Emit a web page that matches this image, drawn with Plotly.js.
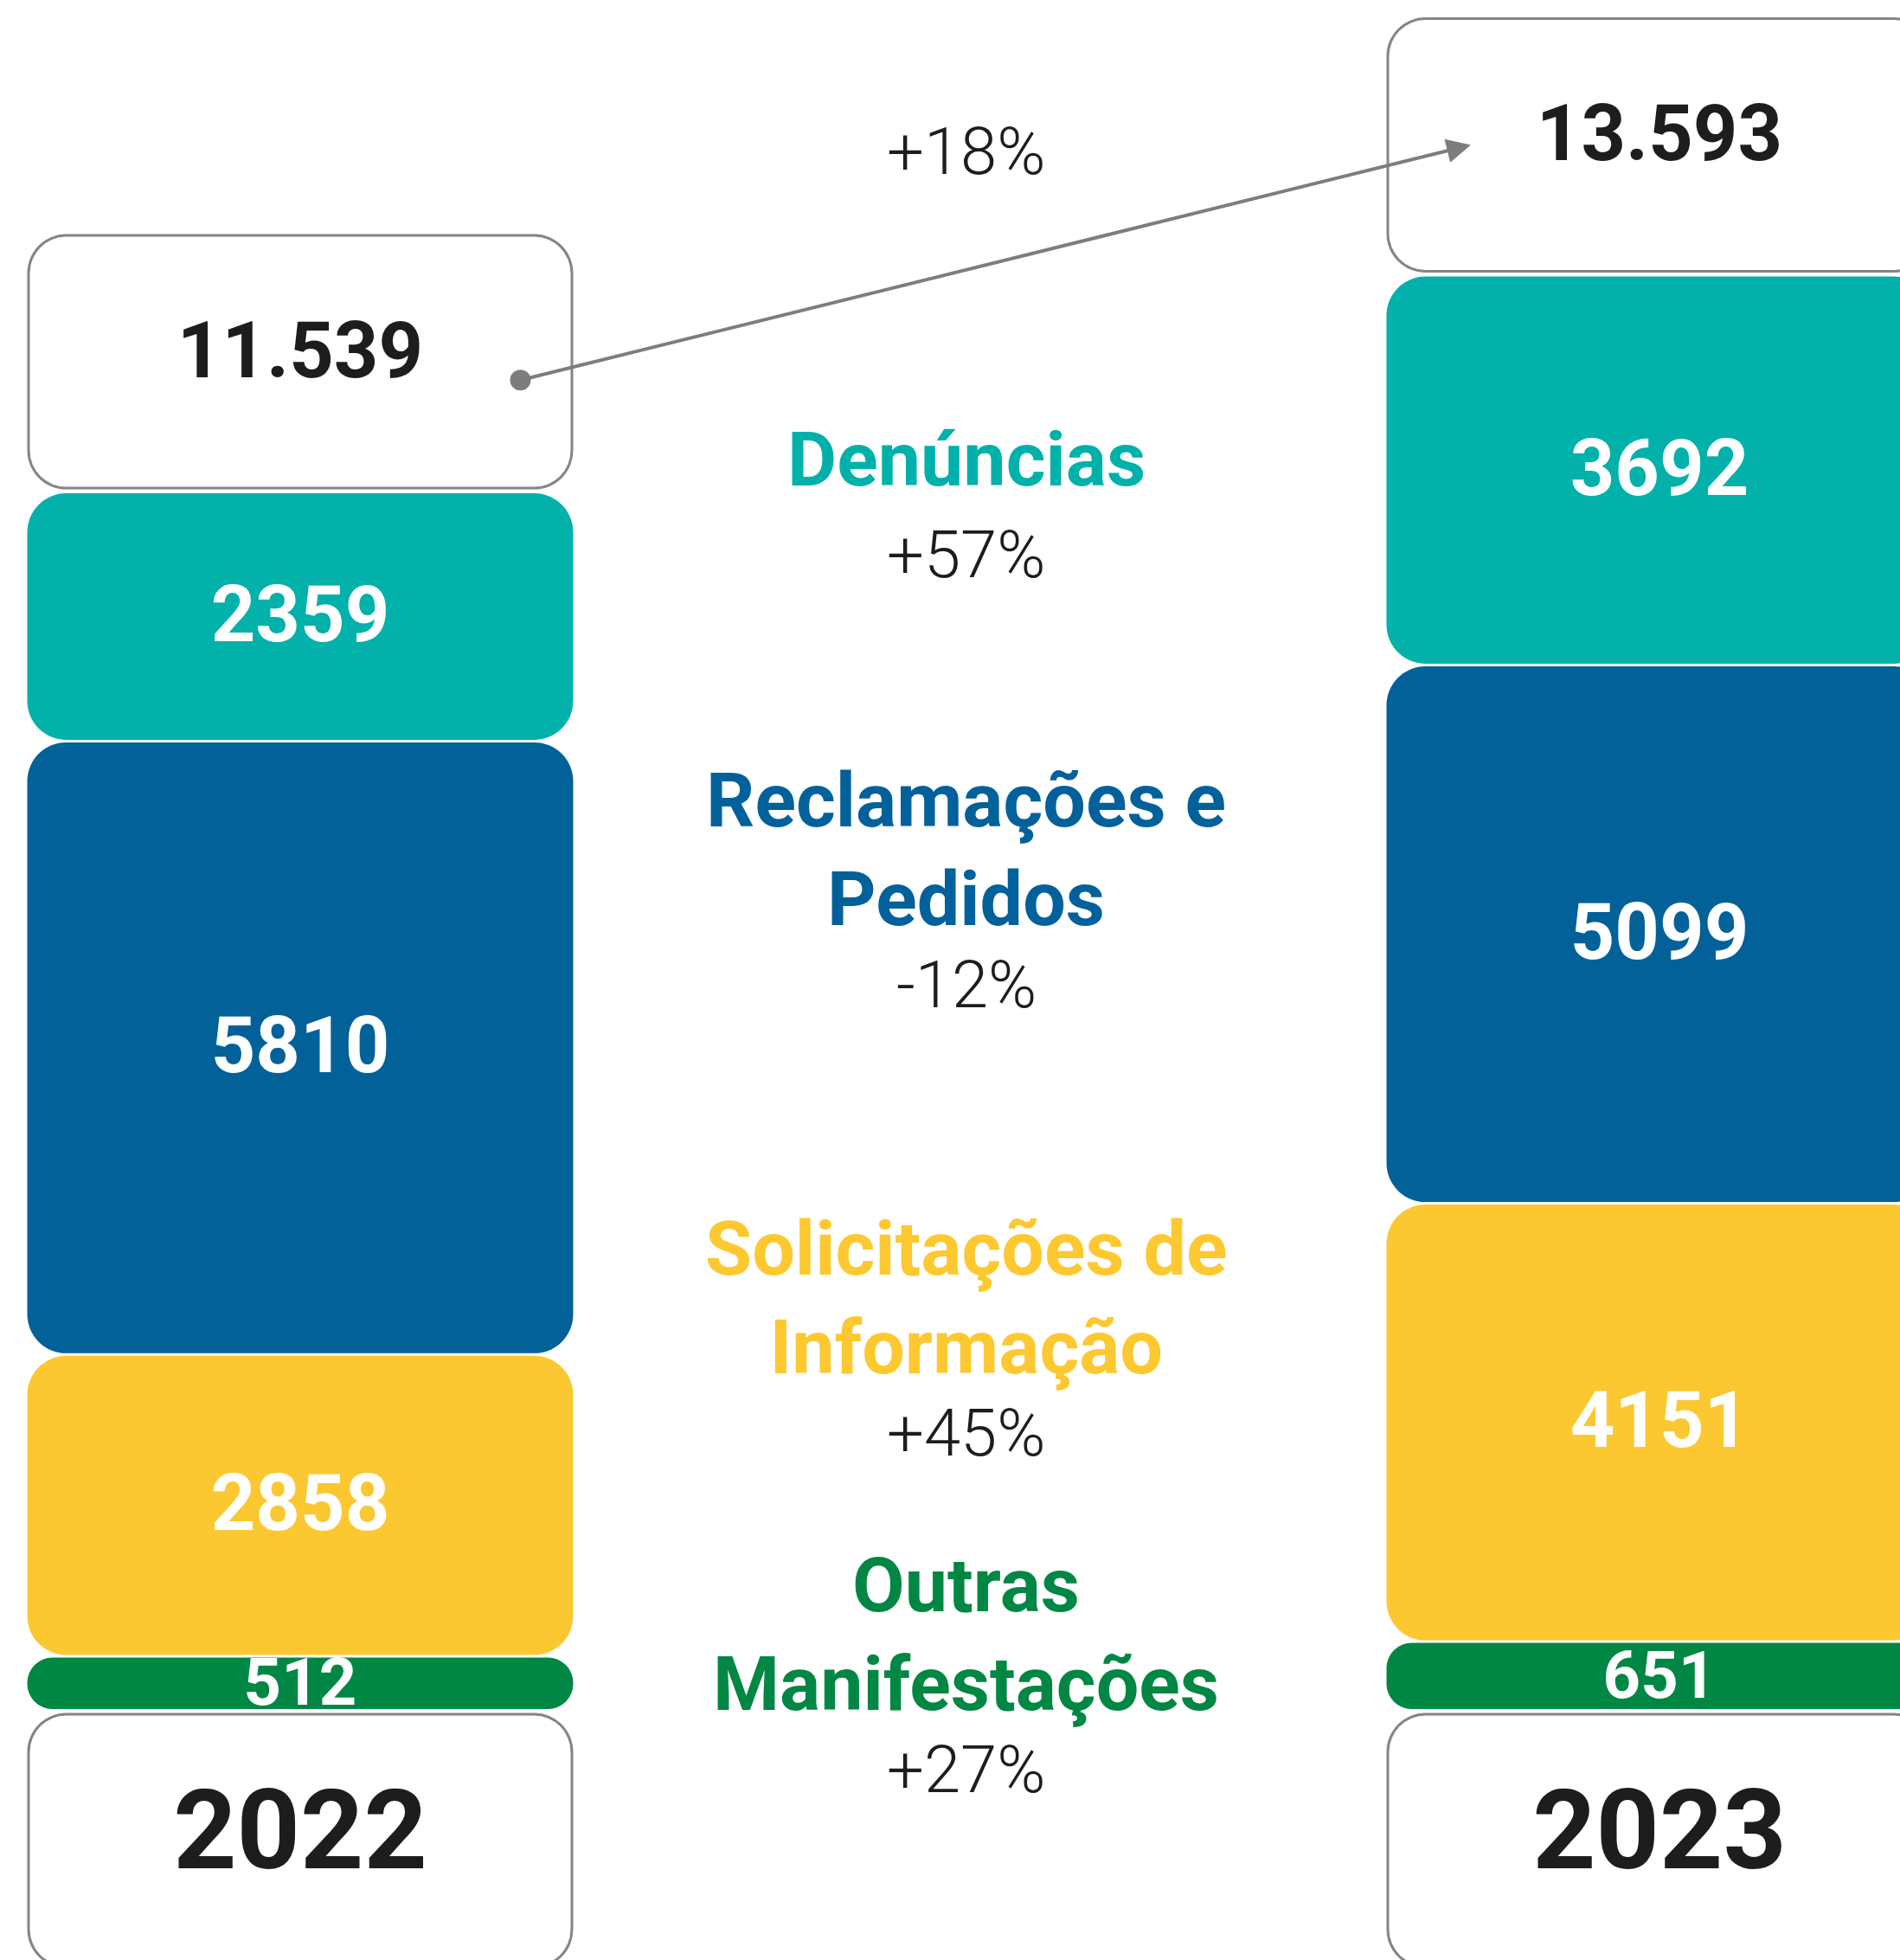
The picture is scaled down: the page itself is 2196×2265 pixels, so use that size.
<!DOCTYPE html>
<html>
<head>
<meta charset="utf-8">
<script src="https://cdn.plot.ly/plotly-3.0.1.min.js"></script>
<style>
  html, body { margin: 0; padding: 0; background: #ffffff; }
  #chart { width: 2196px; height: 2265px; }
</style>
</head>
<body>
<div id="chart"></div>
<script>
// ---------------- DATA ----------------
const years = ['2022', '2023'];
const categories = ['Denúncias', 'Reclamações e<br>Pedidos', 'Solicitações de<br>Informação', 'Outras<br>Manifestações'];
const values2022 = [2359, 5810, 2858, 512];
const values2023 = [3692, 5099, 4151, 651];

// ---------------- STYLE ----------------
const categoryColors = ['#02b1aa', '#026199', '#fcc831', '#018744'];
const labelColors = ['#00b1aa', '#02619b', '#fdc830', '#018743'];
const DARK = '#1d1d1b';
const GRAY = '#858585';
const ARROW = '#7d7d7d';
const FONT = 'Roboto, "Open Sans", "Noto Sans", sans-serif';

// ---------------- LAYOUT GEOMETRY ----------------
const W = 2196, H = 2265;
const series = [values2022, values2023];
const totals = series.map(a => a.reduce((p, c) => p + c, 0));

const baselinePx = 1976.5;   // bottom of stacks
const topPx = 318;           // top of tallest stack
const gapPx = 3;
const boxPx = 295;           // height of total / year boxes
const R = 45;                // corner radius
const border = 3;

const s = (baselinePx - topPx) / Math.max(...totals); // px per unit
const u = px => px / s;
const yRange = [-(H - baselinePx) / s, baselinePx / s];

const xCenterPx = [347, 1918];
const pxPerX = xCenterPx[1] - xCenterPx[0];
const xRange = [-xCenterPx[0] / pxPerX, (W - xCenterPx[0]) / pxPerX];
const barW = 631 / pxPerX;
const xIdx = years.map((_, j) => j);

const fmtThousands = n => String(n).replace(/\B(?=(\d{3})+(?!\d))/g, '.');
const fmtPct = (a, b) => { const p = Math.round((b / a - 1) * 100); return (p > 0 ? '+' : '') + p + '%'; };

// one rounded bar per year, spanning lo..hi
function roundedBars(lo, hi, width, color, radius) {
  return [{
    type: 'bar', x: xIdx, base: lo, y: lo.map((l, j) => hi[j] - l), width: width,
    marker: { color: color, cornerradius: radius, line: { width: 0 } },
    hoverinfo: 'skip', showlegend: false
  }];
}

const traces = [];
const textTraces = [];

// stacked segments (bottom: last category)
categories.forEach((cat, i) => {
  const lo = [], hi = [], mids = [];
  series.forEach((vals, j) => {
    let base = 0;
    for (let k = i + 1; k < vals.length; k++) base += vals[k];
    lo.push(base + u(gapPx / 2));
    hi.push(base + vals[i] - u(gapPx / 2));
    mids.push(base + vals[i] / 2);
  });
  const minHalfPx = Math.min(...lo.map((l, j) => (hi[j] - l) * s / 2));
  traces.push(...roundedBars(lo, hi, barW, categoryColors[i], Math.min(R, Math.floor(minHalfPx))));
  const small = Math.min(...lo.map((l, j) => (hi[j] - l) * s)) < 90;
  textTraces.push({
    type: 'scatter', mode: 'text', x: xIdx, y: mids.map(m => m - u(6)),
    text: series.map(vals => String(vals[i])),
    textposition: 'middle center',
    textfont: { family: FONT, size: small ? 76 : 90, color: '#ffffff', weight: 700 },
    hoverinfo: 'skip', showlegend: false
  });
});

// total boxes on top
const totLo = totals.map(t => t + u(gapPx));
const totHi = totLo.map(l => l + u(boxPx));
traces.push(...roundedBars(totLo, totHi, barW, GRAY, R));
traces.push(...roundedBars(totLo.map(v => v + u(border)), totHi.map(v => v - u(border)),
  barW - 2 * border / pxPerX, '#ffffff', R - border));
const totMid = totLo.map((l, j) => (l + totHi[j]) / 2);
textTraces.push({
  type: 'scatter', mode: 'text', x: xIdx, y: totMid.map(m => m + u(5)),
  text: totals.map(fmtThousands), textposition: 'middle center',
  textfont: { family: FONT, size: 90, color: DARK, weight: 700 },
  hoverinfo: 'skip', showlegend: false
});

// year boxes at the bottom
const yrHi = years.map(() => -u(gapPx));
const yrLo = yrHi.map(h => h - u(boxPx));
traces.push(...roundedBars(yrLo, yrHi, barW, GRAY, R));
traces.push(...roundedBars(yrLo.map(v => v + u(border)), yrHi.map(v => v - u(border)),
  barW - 2 * border / pxPerX, '#ffffff', R - border));
textTraces.push({
  type: 'scatter', mode: 'text', x: xIdx, y: yrLo.map((l, j) => (l + yrHi[j]) / 2),
  text: years, textposition: 'middle center',
  textfont: { family: FONT, size: 128, color: DARK, weight: 700 },
  hoverinfo: 'skip', showlegend: false
});

// ---------------- CENTER LABELS ----------------
const labelX = 0.49;
const namePx = [531, 981, 1499, 1888];       // vertical centre of each name block
const pctPx = [641, 1138, 1656, 2045];
const annotations = [];
categories.forEach((cat, i) => {
  annotations.push({
    xref: 'x', yref: 'paper', x: labelX, y: 1 - namePx[i] / H,
    xanchor: 'center', yanchor: 'middle', showarrow: false, text: cat, align: 'center',
    font: { family: FONT, size: 88, color: labelColors[i], weight: 700 }
  });
  annotations.push({
    xref: 'x', yref: 'paper', x: labelX, y: 1 - pctPx[i] / H,
    xanchor: 'center', yanchor: 'middle', showarrow: false,
    text: fmtPct(values2022[i], values2023[i]),
    font: { family: FONT, size: 76, color: DARK, weight: 300 }
  });
});

// total growth arrow
annotations.push({
  xref: 'x', yref: 'y', axref: 'x', ayref: 'y',
  x: 1 + (1700 - xCenterPx[1]) / pxPerX, y: totMid[1],
  ax: (600 - xCenterPx[0]) / pxPerX, ay: totMid[0] - u(21.5),
  text: '', showarrow: true, arrowhead: 2, arrowsize: 1.4, arrowwidth: 4,
  arrowcolor: ARROW, startarrowhead: 6, startarrowsize: 1.5, arrowside: 'end+start',
  standoff: 0, startstandoff: 0
});
annotations.push({
  xref: 'x', yref: 'paper', x: labelX, y: 1 - 175 / H,
  xanchor: 'center', yanchor: 'middle', showarrow: false,
  text: fmtPct(totals[0], totals[1]),
  font: { family: FONT, size: 76, color: DARK, weight: 300 }
});

const layout = {
  width: W, height: H,
  margin: { l: 0, r: 0, t: 0, b: 0, pad: 0 },
  paper_bgcolor: '#ffffff', plot_bgcolor: '#ffffff',
  barmode: 'overlay',
  showlegend: false,
  hovermode: false,
  xaxis: { range: xRange, visible: false, fixedrange: true },
  yaxis: { range: yRange, visible: false, fixedrange: true },
  annotations: annotations
};

Plotly.newPlot('chart', traces.concat(textTraces), layout, { displayModeBar: false, staticPlot: true });
</script>
</body>
</html>
